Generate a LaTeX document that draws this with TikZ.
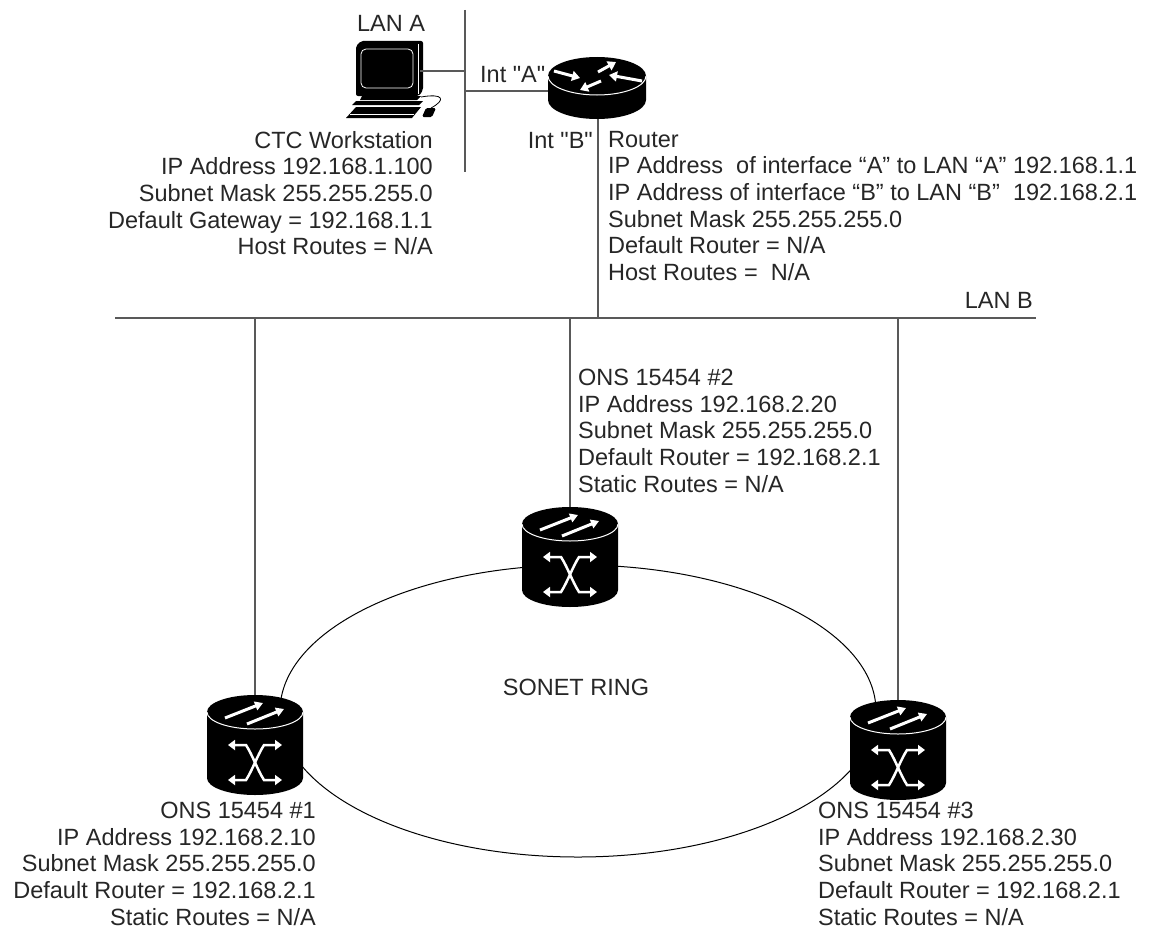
\documentclass[tikz,border=0pt]{standalone}
\usepackage{fontspec}
\setmainfont{Liberation Sans}
\usetikzlibrary{arrows.meta}

\tikzset{
  ons/.pic={
    \fill[black] (-48,0) -- (-48,66) arc[start angle=180, end angle=0, x radius=48, y radius=17]
      -- (48,0) arc[start angle=360, end angle=180, x radius=48, y radius=17] -- cycle;
    \draw[white, line width=1pt] (-48,0) arc[start angle=180, end angle=0, x radius=48, y radius=17];
    \draw[white, line width=3pt, -{Triangle[length=8pt, width=9pt]}] (-30,6) -- (8,-9);
    \draw[white, line width=3pt, -{Triangle[length=8pt, width=9pt]}] (-8,12) -- (29,-3);
    \draw[white, line width=2.5pt, {Triangle[length=7pt, width=10pt]}-{Triangle[length=7pt, width=10pt]}]
      (-27,33) -- (-9,33) .. controls (-2,44) and (2,57) .. (9,68) -- (27,68);
    \draw[white, line width=2.5pt, {Triangle[length=7pt, width=10pt]}-{Triangle[length=7pt, width=10pt]}]
      (27,33) -- (9,33) .. controls (2,44) and (-2,57) .. (-9,68) -- (-27,68);
    \coordinate (-top) at (0,-17);
  },
  rtr/.pic={
    \fill[black] (-49,0) -- (-49,24) arc[start angle=180, end angle=0, x radius=49, y radius=19]
      -- (49,0) arc[start angle=360, end angle=180, x radius=49, y radius=19] -- cycle;
    \draw[white, line width=1pt] (-49,0) arc[start angle=180, end angle=0, x radius=49, y radius=19];
    \draw[white, line width=3pt, -{Triangle[length=8pt, width=10pt]}] (-43,-5) -- (-17,2);
    \draw[white, line width=3pt, -{Triangle[length=8pt, width=10pt]}] (45,5) -- (12,-1);
    \draw[white, line width=3pt, -{Triangle[length=8pt, width=10pt]}] (1,-4) -- (19,-14);
    \draw[white, line width=3pt, -{Triangle[length=8pt, width=10pt]}] (4,5) -- (-17,14);
    \coordinate (-west) at (-49,15);
    \coordinate (-south) at (1,43);
  }
}

\begin{document}
\begin{tikzpicture}[x=1pt, y=-1pt,
  lan/.style={draw=black!65, line width=1.3pt},
  ring/.style={draw=black, line width=1pt},
  lbl/.style={font=\fontsize{23.5}{26.6}\selectfont, text=black!85, inner sep=0pt}]
\useasboundingbox (0,0) rectangle (1150,934);

% LAN A and workstation
\coordinate (lanA-top) at (465,10);
\coordinate (lanA-bot) at (465,172);
\coordinate (ws-port) at (420,71);
\fill[black, rounded corners=2] (356,46) -- (361,41) -- (423,41) -- (423,90) -- (419,96) -- (356,96) -- cycle;
\draw[white, line width=0.8pt, rounded corners=5] (361,49) rectangle (413,88);
\draw[white, line width=0.6pt] (418,44) -- (418,94);
\fill[black] (362,96) -- (421,96) -- (417,100) -- (360,100) -- cycle;
\fill[black] (356,101) -- (423,101) -- (419,105) -- (352,105) -- cycle;
\fill[black] (356,107) -- (421,107) -- (412,118) -- (346,118) -- cycle;
\draw[white, line width=0.6pt] (350,114) -- (414,114);
\fill[black, rounded corners=1.5] (426,108) -- (436,108) -- (432,117) -- (422,117) -- cycle;
\draw[black, line width=0.8pt] (431,108) .. controls (446,100) and (444,93) .. (421,97);

\node[lbl, anchor=base] (lanA) at (391,32) {LAN A};
\node[lbl, anchor=north east, align=right] (ws) at (433,131)
  {CTC Workstation\\IP Address 192.168.1.100\\Subnet Mask 255.255.255.0\\Default Gateway = 192.168.1.1\\Host Routes = N/A};

% router
\pic (rtr) at (597,76) {rtr};
\node[lbl, anchor=base west] (intA) at (480,82) {Int \textquotedbl A\textquotedbl};
\node[lbl, anchor=base east] (intB) at (593,148) {Int \textquotedbl B\textquotedbl};
\node[lbl, anchor=north west, align=left] (rtrtxt) at (608,131)
  {Router\\IP Address~ of interface “A” to LAN “A” 192.168.1.1\\IP Address of interface “B” to LAN “B”~ 192.168.2.1\\Subnet Mask 255.255.255.0\\Default Router = N/A\\Host Routes =~ N/A};

\draw[lan] (lanA-top) -- (lanA-bot);
\draw[lan] (ws-port) -- (ws-port -| lanA-top);
\draw[lan] (rtr-west -| lanA-top) -- (rtr-west);

% LAN B
\coordinate (lanB-w) at (115,318);
\coordinate (lanB-e) at (1036,318);
\draw[lan] (lanB-w) -- (lanB-e);
\draw[lan] (rtr-south) -- (rtr-south |- lanB-w);
\node[lbl, anchor=base east] (lanB) at (1033,308) {LAN B};

% SONET ring
\draw[ring] (578,711) ellipse[x radius=298, y radius=146];
\node[lbl, anchor=base] (sonet) at (576,695) {SONET RING};

\pic (ons1) at (255,712) {ons};
\pic (ons2) at (570,524) {ons};
\pic (ons3) at (898,717) {ons};

\draw[lan] (ons1-top |- lanB-w) -- (ons1-top);
\draw[lan] (ons2-top |- lanB-w) -- (ons2-top);
\draw[lan] (ons3-top |- lanB-w) -- (ons3-top);

\node[lbl, anchor=north east, align=right] (ons1txt) at (316,802)
  {ONS 15454 \#1\\IP Address 192.168.2.10\\Subnet Mask 255.255.255.0\\Default Router = 192.168.2.1\\Static Routes = N/A};
\node[lbl, anchor=north west, align=left] (ons2txt) at (578,369)
  {ONS 15454 \#2\\IP Address 192.168.2.20\\Subnet Mask 255.255.255.0\\Default Router = 192.168.2.1\\Static Routes = N/A};
\node[lbl, anchor=north west, align=left] (ons3txt) at (818,802)
  {ONS 15454 \#3\\IP Address 192.168.2.30\\Subnet Mask 255.255.255.0\\Default Router = 192.168.2.1\\Static Routes = N/A};
\end{tikzpicture}
\end{document}
